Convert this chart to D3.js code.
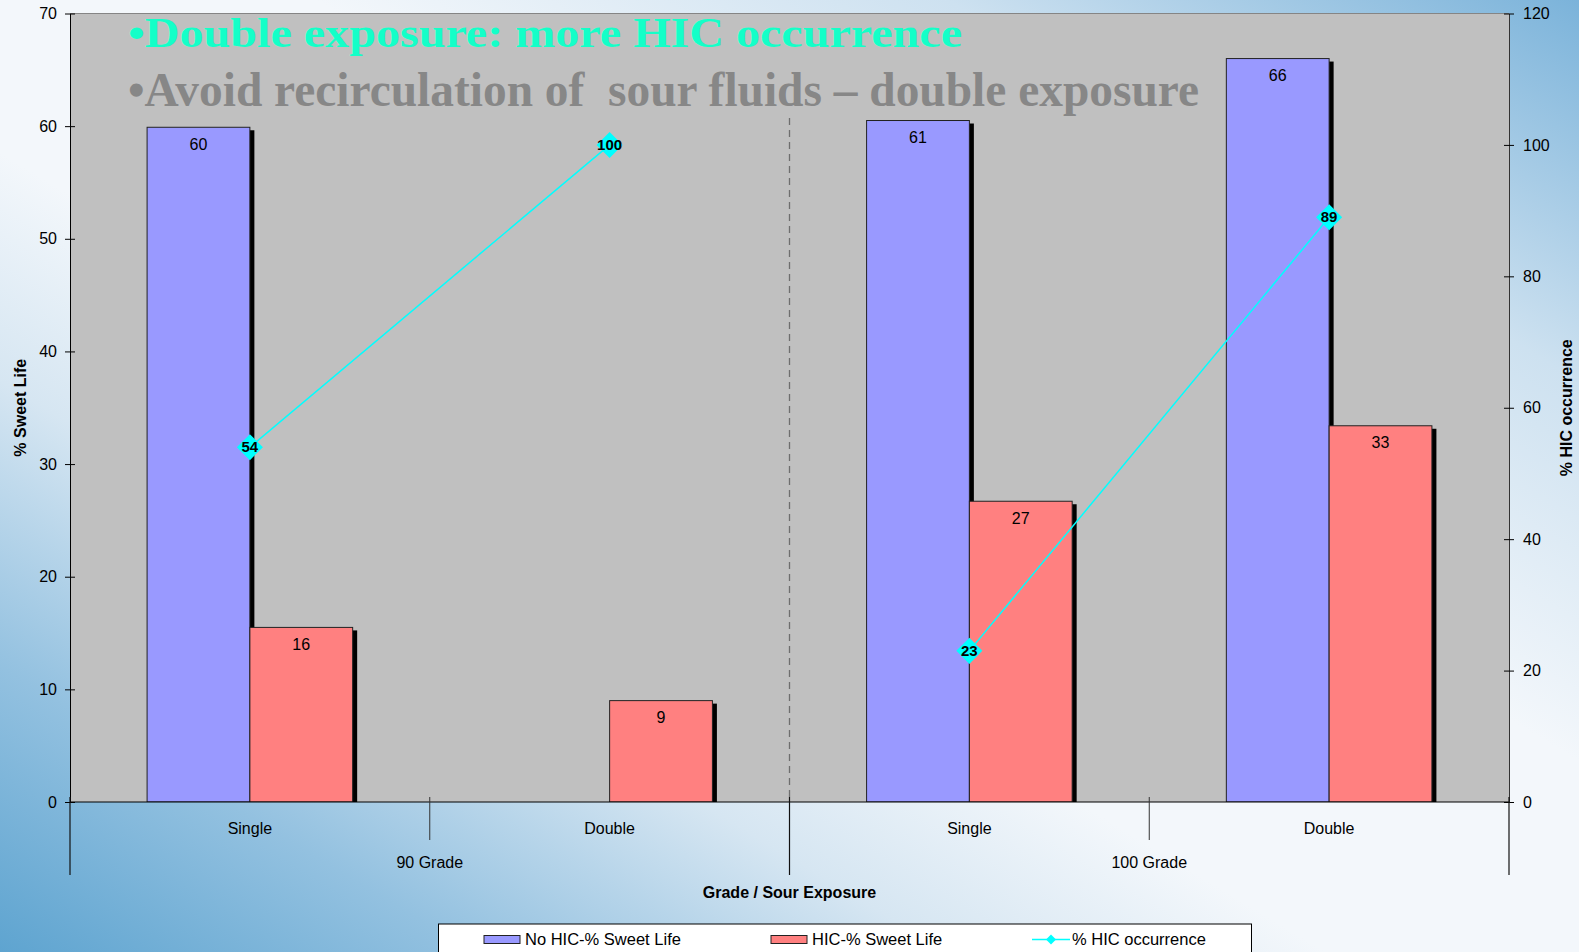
<!DOCTYPE html>
<html>
<head>
<meta charset="utf-8">
<script src="https://cdn.jsdelivr.net/npm/d3@7"></script>
<style>
  html, body { margin: 0; padding: 0; overflow: hidden; }
  svg { display: block; }
  text { font-family: "Liberation Sans", Arial, sans-serif; }
</style>
</head>
<body>
<script>
// ---- chart data ----
const grades = ["90 Grade", "100 Grade"];
const exposures = ["Single", "Double"];
const seriesNames = ["No HIC-% Sweet Life", "HIC-% Sweet Life", "% HIC occurrence"];
// one value per grade/exposure pair: 90 Single, 90 Double, 100 Single, 100 Double
const noHicSweetLife = [59.9, null, 60.5, 66.0];
const hicSweetLife = [15.5, 9.0, 26.7, 33.4];
const hicOccurrence = [54, 100, 23, 89];
const leftTicks = [0, 10, 20, 30, 40, 50, 60, 70];
const rightTicks = [0, 20, 40, 60, 80, 100, 120];
const headline1 = "\u2022Double exposure: more HIC occurrence";
const headline2 = "\u2022Avoid recirculation of  sour fluids \u2013 double exposure";

// ---- layout ----
const W = 1579, H = 952;
const plot = { left: 70, right: 1509, top: 13.5, bottom: 802 };
const fontSans = "Liberation Sans, Arial, sans-serif";

const svg = d3.select("body").append("svg").attr("width", W).attr("height", H);
const defs = svg.append("defs");

// page background: diagonal blue-white-blue wash
const bg = defs.append("linearGradient").attr("id", "pageBg")
  .attr("x1", 0).attr("y1", 1).attr("x2", 1).attr("y2", 0);
[[0, "#5ea4d0"], [0.15, "#93c1e0"], [0.3, "#d6e6f2"], [0.42, "#f3f7fb"],
 [0.6, "#f3f7fb"], [0.8, "#cde1f0"], [1, "#7bb3da"]].forEach(([o, c]) =>
  bg.append("stop").attr("offset", o).attr("stop-color", c));
svg.append("rect").attr("width", W).attr("height", H).attr("fill", "url(#pageBg)");

defs.append("clipPath").attr("id", "plotClip").append("rect")
  .attr("x", plot.left).attr("y", plot.top)
  .attr("width", plot.right - plot.left).attr("height", plot.bottom - plot.top);

// ---- scales ----
const keys = d3.cross(grades, exposures).map(([g, e]) => g + "|" + e);
const x = d3.scaleBand().domain(keys).range([plot.left, plot.right]).padding(0);
const xGrade = d3.scaleBand().domain(grades).range([plot.left, plot.right]).padding(0);
const barW = x.bandwidth() / 3.5;
const xSeries = d3.scaleBand().domain(seriesNames.slice(0, 2)).range([-barW, barW]).padding(0);
const yL = d3.scaleLinear().domain([0, 70]).range([plot.bottom, plot.top]);
const yR = d3.scaleLinear().domain([0, 120]).range([plot.bottom, plot.top]);
const cx = k => x(k) + x.bandwidth() / 2;

// plot area
svg.append("rect")
  .attr("x", plot.left).attr("y", plot.top)
  .attr("width", plot.right - plot.left).attr("height", plot.bottom - plot.top)
  .attr("fill", "#c0c0c0");
svg.append("line")
  .attr("x1", plot.left).attr("x2", plot.right).attr("y1", plot.top).attr("y2", plot.top)
  .attr("stroke", "#858585").attr("stroke-width", 1.2);

// headline text over the plot
svg.append("text")
  .attr("x", 128).attr("y", 47)
  .attr("textLength", 834).attr("lengthAdjust", "spacingAndGlyphs")
  .style("font-family", "Liberation Serif, Times New Roman, serif")
  .style("font-weight", "bold").style("font-size", "42px")
  .attr("fill", "#14ffc8").text(headline1);
svg.append("text")
  .attr("x", 128).attr("y", 106)
  .attr("textLength", 1071).attr("lengthAdjust", "spacingAndGlyphs")
  .style("font-family", "Liberation Serif, Times New Roman, serif")
  .style("font-weight", "bold").style("font-size", "48px")
  .style("white-space", "pre").attr("xml:space", "preserve")
  .attr("fill", "#878787").text(headline2);

// dashed divider between grades
svg.append("line")
  .attr("x1", xGrade("100 Grade")).attr("x2", xGrade("100 Grade"))
  .attr("y1", 118).attr("y2", plot.bottom)
  .attr("stroke", "#6e6e6e").attr("stroke-width", 1.3).attr("stroke-dasharray", "7,5");

// ---- bars ----
const barSeries = [
  { name: seriesNames[0], values: noHicSweetLife, fill: "#9999ff" },
  { name: seriesNames[1], values: hicSweetLife, fill: "#ff8080" }
];
const barsG = svg.append("g").attr("clip-path", "url(#plotClip)");
barSeries.forEach(s => {
  const data = keys.map((k, i) => ({ k, v: s.values[i] })).filter(d => d.v != null);
  // drop shadow
  barsG.selectAll(null).data(data).join("rect")
    .attr("x", d => cx(d.k) + xSeries(s.name) + 4.5)
    .attr("y", d => yL(d.v) + 3)
    .attr("width", xSeries.bandwidth())
    .attr("height", d => Math.max(0, yL(0) - yL(d.v)))
    .attr("fill", "#000");
  barsG.selectAll(null).data(data).join("rect")
    .attr("x", d => cx(d.k) + xSeries(s.name))
    .attr("y", d => yL(d.v))
    .attr("width", xSeries.bandwidth())
    .attr("height", d => yL(0) - yL(d.v))
    .attr("fill", s.fill).attr("stroke", "#222").attr("stroke-width", 1);
  svg.selectAll(null).data(data).join("text")
    .attr("x", d => cx(d.k) + xSeries(s.name) + xSeries.bandwidth() / 2)
    .attr("y", d => yL(d.v) + 17)
    .attr("dy", "0.35em").attr("text-anchor", "middle")
    .style("font-size", "16px").attr("fill", "#000")
    .text(d => Math.round(d.v));
});

// ---- HIC occurrence line (right axis), one segment per grade ----
const lineData = keys.map((k, i) => ({ k, grade: k.split("|")[0], v: hicOccurrence[i] }));
const byGrade = d3.groups(lineData, d => d.grade);
svg.selectAll(null).data(byGrade).join("path")
  .attr("d", ([, pts]) => d3.line().x(d => cx(d.k)).y(d => yR(d.v))(pts))
  .attr("fill", "none").attr("stroke", "#00ffff").attr("stroke-width", 1.5);
const diamond = d3.symbol().type(d3.symbolSquare).size(340);
svg.selectAll(null).data(lineData).join("path")
  .attr("d", diamond)
  .attr("transform", d => `translate(${cx(d.k)},${yR(d.v)}) rotate(45)`)
  .attr("fill", "#00ffff");
svg.selectAll(null).data(lineData).join("text")
  .attr("x", d => cx(d.k)).attr("y", d => yR(d.v))
  .attr("dy", "0.35em").attr("text-anchor", "middle")
  .style("font-size", "15px").style("font-weight", "bold").attr("fill", "#000")
  .text(d => Math.round(d.v));

// ---- axes ----
const leftAxis = svg.append("g").attr("transform", `translate(${plot.left},0)`)
  .call(d3.axisLeft(yL).tickValues(leftTicks).tickSize(5).tickSizeOuter(0).tickPadding(8));
leftAxis.selectAll(".tick line").attr("x1", 5).attr("x2", -5);
leftAxis.select(".domain").attr("stroke", "#000");

const rightAxis = svg.append("g").attr("transform", `translate(${plot.right},0)`)
  .call(d3.axisRight(yR).tickValues(rightTicks).tickSize(5).tickSizeOuter(0).tickPadding(9));
rightAxis.selectAll(".tick line").attr("x1", -5).attr("x2", 5);
rightAxis.select(".domain").attr("stroke", "#333");

[leftAxis, rightAxis].forEach(a => a.selectAll("text")
  .style("font-family", fontSans).style("font-size", "16px").attr("fill", "#000"));

// category axis with two label rows
const xAxisG = svg.append("g");
xAxisG.append("line")
  .attr("x1", plot.left).attr("x2", plot.right).attr("y1", plot.bottom).attr("y2", plot.bottom)
  .attr("stroke", "#000").attr("stroke-width", 1.2);
// short ticks between exposures within a grade
xAxisG.selectAll(null).data(grades).join("line")
  .attr("x1", g => xGrade(g) + xGrade.bandwidth() / 2)
  .attr("x2", g => xGrade(g) + xGrade.bandwidth() / 2)
  .attr("y1", plot.bottom - 5).attr("y2", 840)
  .attr("stroke", "#333").attr("stroke-width", 1);
// long ticks between grades
const gradeEdges = grades.map(g => xGrade(g)).concat([xGrade.range()[1]]);
xAxisG.selectAll(null).data(gradeEdges).join("line")
  .attr("x1", d => d).attr("x2", d => d)
  .attr("y1", plot.bottom - 5).attr("y2", 875)
  .attr("stroke", "#111").attr("stroke-width", 1.2);
xAxisG.selectAll(null).data(keys).join("text")
  .attr("x", k => cx(k)).attr("y", 828).attr("dy", "0.35em")
  .attr("text-anchor", "middle").style("font-size", "16px").attr("fill", "#000")
  .text(k => k.split("|")[1]);
xAxisG.selectAll(null).data(grades).join("text")
  .attr("x", g => xGrade(g) + xGrade.bandwidth() / 2).attr("y", 862).attr("dy", "0.35em")
  .attr("text-anchor", "middle").style("font-size", "16px").attr("fill", "#000")
  .text(g => g);

// axis titles
svg.append("text")
  .attr("transform", `translate(20,${(plot.top + plot.bottom) / 2}) rotate(-90)`)
  .attr("dy", "0.35em").attr("text-anchor", "middle")
  .style("font-size", "16px").style("font-weight", "bold").text("% Sweet Life");
svg.append("text")
  .attr("transform", `translate(1566,${(plot.top + plot.bottom) / 2}) rotate(-90)`)
  .attr("dy", "0.35em").attr("text-anchor", "middle")
  .style("font-size", "16px").style("font-weight", "bold").text("% HIC occurrence");
svg.append("text")
  .attr("x", (plot.left + plot.right) / 2).attr("y", 892).attr("dy", "0.35em")
  .attr("text-anchor", "middle")
  .style("font-size", "16px").style("font-weight", "bold").text("Grade / Sour Exposure");

// ---- legend ----
const legend = svg.append("g");
legend.append("rect")
  .attr("x", 438.5).attr("y", 924).attr("width", 813).attr("height", 40)
  .attr("fill", "#fff").attr("stroke", "#000").attr("stroke-width", 1);
const legendItems = [
  { name: seriesNames[0], x: 484, kind: "bar", fill: "#9999ff" },
  { name: seriesNames[1], x: 771, kind: "bar", fill: "#ff8080" },
  { name: seriesNames[2], x: 1032, kind: "line", fill: "#00ffff" }
];
legendItems.forEach(it => {
  if (it.kind === "bar") {
    legend.append("rect").attr("x", it.x).attr("y", 935.5).attr("width", 36).attr("height", 8)
      .attr("fill", it.fill).attr("stroke", "#222").attr("stroke-width", 1);
  } else {
    legend.append("line").attr("x1", it.x).attr("x2", it.x + 38).attr("y1", 939.5).attr("y2", 939.5)
      .attr("stroke", it.fill).attr("stroke-width", 1.5);
    legend.append("path").attr("d", d3.symbol().type(d3.symbolSquare).size(50))
      .attr("transform", `translate(${it.x + 19},939.5) rotate(45)`).attr("fill", it.fill);
  }
  legend.append("text")
    .attr("x", it.x + (it.kind === "bar" ? 41 : 40)).attr("y", 939).attr("dy", "0.35em")
    .style("font-size", "16.5px").attr("fill", "#000").text(it.name);
});
</script>
</body>
</html>
